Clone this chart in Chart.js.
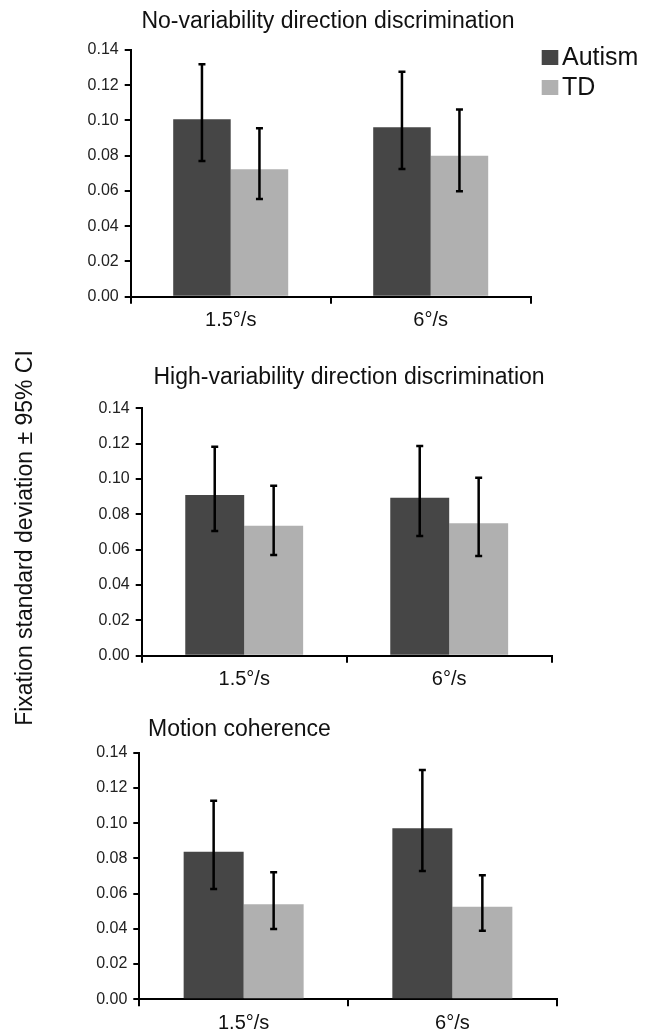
<!DOCTYPE html>
<html>
<head>
<meta charset="utf-8">
<script src="https://cdn.jsdelivr.net/npm/chart.js@4.4.1/dist/chart.umd.min.js"></script>
<style>
  html, body { margin: 0; padding: 0; background: #fff; }
  #wrap { position: relative; width: 657px; height: 1033px; }
  #wrap canvas { position: absolute; left: 0; top: 0; }
</style>
</head>
<body>
<div id="wrap">
  <canvas id="c1" width="657" height="1033"></canvas>
  <canvas id="c2" width="657" height="1033"></canvas>
  <canvas id="c3" width="657" height="1033"></canvas>
</div>
<script>
// Data
const categories = ['1.5°/s', '6°/s'];
const groups = ['Autism', 'TD'];
const yMin = 0, yMax = 0.14, yStep = 0.02;
const yTitle = 'Fixation standard deviation ± 95% CI';
const panelTitles = [
    'No-variability direction discrimination',
    'High-variability direction discrimination',
    'Motion coherence'
];

// No-variability direction discrimination
const noVarAutism = [0.1007, 0.0961];
const noVarAutismLo = [0.0770, 0.0725];
const noVarAutismHi = [0.1319, 0.1277];
const noVarTD = [0.0723, 0.0800];
const noVarTDLo = [0.0554, 0.0598];
const noVarTDHi = [0.0956, 0.1063];

// High-variability direction discrimination
const highVarAutism = [0.0909, 0.0894];
const highVarAutismLo = [0.0706, 0.0677];
const highVarAutismHi = [0.1183, 0.1187];
const highVarTD = [0.0736, 0.0749];
const highVarTDLo = [0.0570, 0.0564];
const highVarTDHi = [0.0962, 0.1007];

// Motion coherence
const motionAutism = [0.0838, 0.0971];
const motionAutismLo = [0.0626, 0.0728];
const motionAutismHi = [0.1127, 0.1302];
const motionTD = [0.0539, 0.0526];
const motionTDLo = [0.0399, 0.0389];
const motionTDHi = [0.0721, 0.0704];

const colors = ['#464646', '#b0b0b0'];

Chart.defaults.font.family = '"Liberation Sans", Arial, sans-serif';
Chart.defaults.color = '#111';

const W = 657, H = 1033;
const Y_W = 60, X_H = 40;

// where each panel's plot area sits on the page
const layouts = [
    { left: 130.7, right: 530.7, top: 50, bottom: 296.7, titleX: 328, titleY: 22, titleAlign: 'center', legend: true },
    { left: 141.7, right: 551.7, top: 408.3, bottom: 655.7, titleX: 349, titleY: 378, titleAlign: 'center', yLabel: true },
    { left: 139.3, right: 556.7, top: 752.7, bottom: 999.3, titleX: 148, titleY: 730, titleAlign: 'left' }
];

const panels = [
    { title: panelTitles[0], values: [noVarAutism, noVarTD], lo: [noVarAutismLo, noVarTDLo], hi: [noVarAutismHi, noVarTDHi] },
    { title: panelTitles[1], values: [highVarAutism, highVarTD], lo: [highVarAutismLo, highVarTDLo], hi: [highVarAutismHi, highVarTDHi] },
    { title: panelTitles[2], values: [motionAutism, motionTD], lo: [motionAutismLo, motionTDLo], hi: [motionAutismHi, motionTDHi] }
];

// error bars, title, legend and shared y label
const extras = {
    id: 'extras',
    afterDatasetsDraw(chart, args, opts) {
        const ctx = chart.ctx;
        const y = chart.scales.y;
        ctx.save();
        ctx.strokeStyle = '#000';
        ctx.lineWidth = 2.5;
        chart.data.datasets.forEach((ds, i) => {
            chart.getDatasetMeta(i).data.forEach((bar, j) => {
                const top = y.getPixelForValue(opts.hi[i][j]);
                const bot = y.getPixelForValue(opts.lo[i][j]);
                ctx.beginPath();
                ctx.moveTo(bar.x, top); ctx.lineTo(bar.x, bot);
                ctx.moveTo(bar.x - 3.5, top); ctx.lineTo(bar.x + 3.5, top);
                ctx.moveTo(bar.x - 3.5, bot); ctx.lineTo(bar.x + 3.5, bot);
                ctx.stroke();
            });
        });
        ctx.restore();
    },
    afterDraw(chart, args, opts) {
        const ctx = chart.ctx;
        const L = opts.layout;
        ctx.save();
        ctx.fillStyle = '#111';
        ctx.textBaseline = 'middle';
        ctx.font = '23px "Liberation Sans", Arial, sans-serif';
        ctx.textAlign = L.titleAlign;
        ctx.fillText(opts.title, L.titleX, L.titleY);

        if (L.legend) {
            ctx.textAlign = 'left';
            ctx.font = '25px "Liberation Sans", Arial, sans-serif';
            chart.data.datasets.forEach((ds, i) => {
                const ty = 57.5 + i * 30;
                ctx.fillStyle = ds.backgroundColor;
                ctx.fillRect(541.7, ty - 7.5, 16.6, 15);
                ctx.fillStyle = '#111';
                ctx.fillText(ds.label, 562, ty + 1);
            });
        }
        if (L.yLabel) {
            ctx.translate(26, 538);
            ctx.rotate(-Math.PI / 2);
            ctx.textAlign = 'center';
            ctx.font = '23px "Liberation Sans", Arial, sans-serif';
            ctx.fillText(yTitle, 0, 0);
        }
        ctx.restore();
    }
};

panels.forEach((p, k) => {
    const L = layouts[k];
    new Chart(document.getElementById('c' + (k + 1)), {
        type: 'bar',
        data: {
            labels: categories,
            datasets: groups.map((g, i) => ({
                label: g,
                data: p.values[i],
                backgroundColor: colors[i],
                borderWidth: 0,
                categoryPercentage: 0.575,
                barPercentage: 1.0
            }))
        },
        options: {
            responsive: false,
            animation: false,
            layout: {
                padding: {
                    left: L.left - Y_W,
                    right: W - L.right,
                    top: L.top,
                    bottom: H - L.bottom - X_H
                }
            },
            plugins: {
                legend: { display: false },
                tooltip: { enabled: false },
                extras: { title: p.title, layout: L, lo: p.lo, hi: p.hi }
            },
            scales: {
                x: {
                    offset: true,
                    afterFit: s => { s.height = X_H; },
                    grid: { offset: true, drawOnChartArea: false, tickLength: 7, color: '#000', lineWidth: 2 },
                    border: { color: '#000', width: 2 },
                    ticks: { font: { size: 20 }, color: '#111', padding: 5 }
                },
                y: {
                    min: yMin,
                    max: yMax,
                    afterFit: s => { s.width = Y_W; },
                    grid: { drawOnChartArea: false, tickLength: 6, color: '#000', lineWidth: 2 },
                    border: { color: '#000', width: 2 },
                    ticks: {
                        stepSize: yStep,
                        font: { size: 16 },
                        color: '#222',
                        padding: 6,
                        callback: v => v.toFixed(2)
                    }
                }
            }
        },
        plugins: [extras]
    });
});
</script>
</body>
</html>
